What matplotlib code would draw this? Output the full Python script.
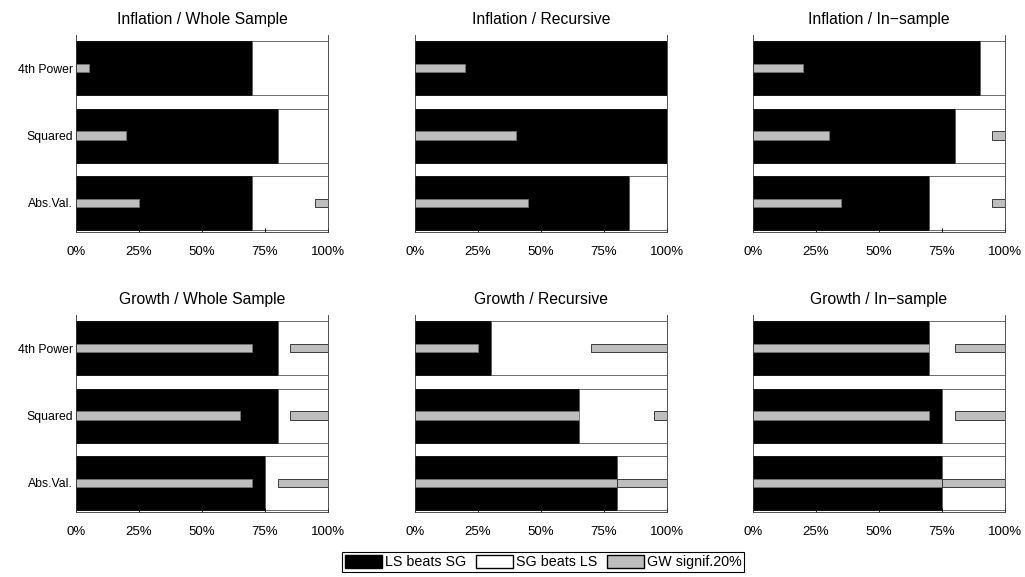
import matplotlib.pyplot as plt
import numpy as np
from matplotlib.patches import Patch

plt.rcParams['font.family'] = ['Liberation Sans', 'DejaVu Sans']
plt.rcParams['font.size'] = 9

categories = ['4th Power', 'Squared', 'Abs.Val.']
titles = ['Inflation / Whole Sample', 'Inflation / Recursive', 'Inflation / In\u2212sample',
          'Growth / Whole Sample', 'Growth / Recursive', 'Growth / In\u2212sample']

# share (%) of cases where LS beats SG, per panel (4th Power, Squared, Abs.Val.)
ls_beats = [[70, 80, 70], [100, 100, 85], [90, 80, 70],
            [80, 80, 75], [30, 65, 80], [70, 75, 75]]
# GW significant at 20% in favour of LS (drawn from 0)
gw_ls = [[5, 20, 25], [20, 40, 45], [20, 30, 35],
         [70, 65, 70], [25, 65, 80], [70, 70, 75]]
# GW significant at 20% in favour of SG (drawn back from 100)
gw_sg = [[0, 0, 5], [0, 0, 0], [0, 5, 5],
         [15, 15, 20], [30, 5, 20], [20, 20, 25]]

xticks = [0, 25, 50, 75, 100]
xticklabels = ['0%', '25%', '50%', '75%', '100%']

fig = plt.figure(figsize=(10.25, 5.77), dpi=100)

lefts = [76, 415, 753]
rows = [(35, 232), (315, 512)]
W, H = 1025, 577

y = np.arange(len(categories))
for i, title in enumerate(titles):
    r, c = divmod(i, 3)
    top, bot = rows[r]
    ax = fig.add_axes([lefts[c] / W, 1 - bot / H, 252 / W, (bot - top) / H])
    ls = np.array(ls_beats[i])
    ax.barh(y, ls, height=0.8, color='black', edgecolor='black', linewidth=0.6)
    ax.barh(y, 100 - ls, left=ls, height=0.8, color='white', edgecolor='#555555', linewidth=0.6)
    ax.barh(y, gw_ls[i], height=0.12, color='#bebebe', edgecolor='#777777', linewidth=0.5)
    sg = np.array(gw_sg[i])
    ax.barh(y, sg, left=100 - sg, height=0.12, color='#bebebe', edgecolor='#222222', linewidth=0.6)
    ax.set_xlim(0, 100)
    ax.set_ylim(2.43, -0.49)
    ax.set_xticks(xticks)
    ax.set_xticklabels(xticklabels, fontsize=9.5)
    ax.tick_params(axis='x', direction='in', length=3, width=0.6, pad=10)
    ax.set_yticks(y)
    if c == 0:
        ax.set_yticklabels(categories, fontsize=8.8)
        ax.tick_params(axis='y', length=0, pad=2)
    else:
        ax.set_yticklabels([])
        ax.tick_params(axis='y', length=0)
    ax.spines['top'].set_visible(False)
    for s in ['left', 'right', 'bottom']:
        ax.spines[s].set_linewidth(0.6)
        ax.spines[s].set_color('#333333')
    ax.set_title(title, fontsize=11.3, pad=8)

handles = [Patch(facecolor='black', edgecolor='black', label='LS beats SG'),
           Patch(facecolor='white', edgecolor='black', label='SG beats LS'),
           Patch(facecolor='#bebebe', edgecolor='black', label='GW signif.20%')]
leg = fig.legend(handles=handles, loc='center', bbox_to_anchor=(0.530, 0.026), ncol=3,
                 fancybox=False, edgecolor='black', framealpha=1, fontsize=10.3,
                 handlelength=2.6, handleheight=1.1, columnspacing=0.7, handletextpad=0.2,
                 borderpad=0.15, borderaxespad=0)
leg.get_frame().set_linewidth(0.8)

fig.savefig('out.png', dpi=100)
